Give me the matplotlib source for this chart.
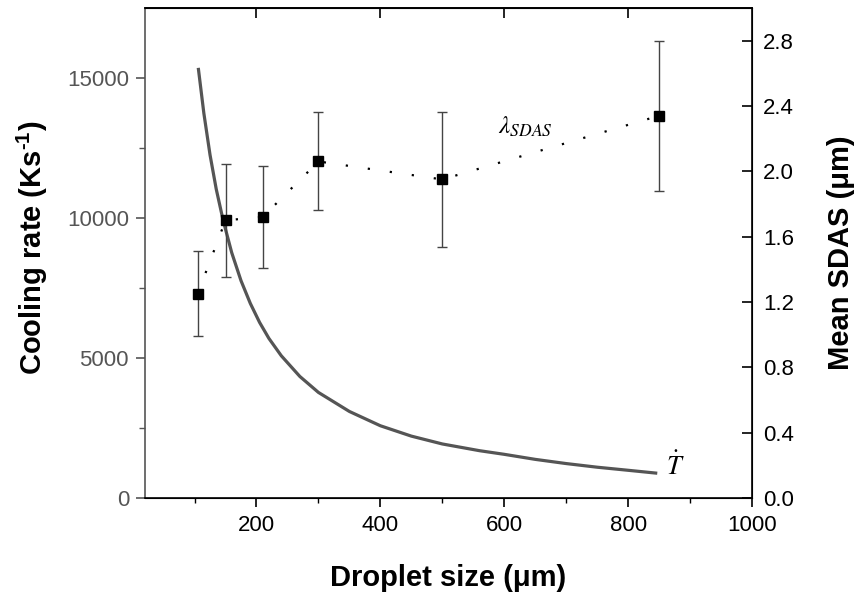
import matplotlib
matplotlib.use("Agg")
import matplotlib.pyplot as plt

plt.rcParams['font.family'] = ['Liberation Sans', 'DejaVu Sans']
plt.rcParams['mathtext.fontset'] = 'stix'
plt.rcParams['mathtext.rm'] = 'Liberation Sans:bold'
plt.rcParams['mathtext.bf'] = 'Liberation Sans:bold'
plt.rcParams['mathtext.it'] = 'Liberation Sans:bold'

# Cooling rate curve
cool_x = [106, 115, 125, 135, 146, 160, 175, 190, 205, 220, 240, 270, 300,
          350, 400, 450, 500, 560, 600, 650, 700, 750, 800, 847]
cool_y = [15360, 13740, 12250, 11030, 9930, 8760, 7760, 6950, 6270, 5700,
          5080, 4340, 3770, 3090, 2580, 2210, 1930, 1690, 1560, 1380, 1230,
          1100, 990, 885]

# Mean SDAS points with error bars
sdas_x = [105, 150, 210, 300, 500, 850]
sdas_y = [1.25, 1.70, 1.72, 2.06, 1.95, 2.34]
sdas_err = [0.26, 0.345, 0.315, 0.30, 0.415, 0.46]

fig = plt.figure(figsize=(8.58, 5.95), dpi=100)
ax = fig.add_axes([0.169, 0.163, 0.7075, 0.8237])
ax2 = ax.twinx()

ax.plot(cool_x, cool_y, color='#555555', lw=2.3, solid_capstyle='butt',
        solid_joinstyle='round', zorder=3)
ax.set_xlim(20, 1000)
ax.set_ylim(0, 17500)
ax.set_xticks([200, 400, 600, 800, 1000])
ax.set_xticks([100, 300, 500, 700, 900], minor=True)
ax.set_yticks([0, 5000, 10000, 15000])
ax.set_yticks([2500, 7500, 12500], minor=True)

ax2.errorbar(sdas_x, sdas_y, yerr=sdas_err, fmt='none', ecolor='#444444',
             elinewidth=1.0, capsize=3.3, capthick=1.0, zorder=2)
ax2.plot(sdas_x, sdas_y, color='black', lw=1.6, linestyle=(0, (1, 9)),
         dash_capstyle='butt', zorder=3)
ax2.plot(sdas_x, sdas_y, linestyle='none', marker='s', ms=6.6,
         color='black', zorder=4)
ax2.set_ylim(0, 3.0)
ax2.set_yticks([0.0, 0.4, 0.8, 1.2, 1.6, 2.0, 2.4, 2.8])
ax2.set_yticklabels(['0.0', '0.4', '0.8', '1.2', '1.6', '2.0', '2.4', '2.8'])

# Spines and ticks
ax.spines['left'].set_color('#555555')
ax.spines['left'].set_linewidth(1.2)
for s in ['bottom', 'top']:
    ax.spines[s].set_linewidth(1.2)
ax2.spines['right'].set_linewidth(1.2)
ax2.spines['left'].set_visible(False)

ax.tick_params(axis='y', which='major', direction='out', length=6.5, width=1.2,
               colors='#555555', labelsize=16, pad=5)
ax.tick_params(axis='y', which='minor', direction='out', length=4, width=1.0,
               colors='#555555')
ax.tick_params(axis='x', which='major', direction='out', length=6.5, width=1.2,
               labelsize=16, pad=6)
ax.tick_params(axis='x', which='minor', direction='out', length=3.7, width=1.0)
secx = ax.secondary_xaxis('top')
secx.set_xticks([200, 400, 600, 800])
secx.tick_params(direction='in', length=7, width=1.2, labeltop=False)
secx.spines['top'].set_linewidth(1.2)
ax.tick_params(axis='x', which='both', top=False)

ax2.tick_params(axis='y', which='major', direction='in', length=7, width=1.2,
                labelsize=16, pad=8)

ax.set_xlabel('Droplet size (μm)', fontsize=21, fontweight='bold')
ax.xaxis.set_label_coords(0.5, -0.135)
ax.set_ylabel(r'Cooling rate (Ks$^{\text{-}1}$)', fontsize=21,
              fontweight='bold', math_fontfamily='custom')
ax.yaxis.set_label_coords(-0.157, 0.51)
ax2.set_ylabel('Mean SDAS (μm)', fontsize=21, fontweight='bold')
ax2.yaxis.set_label_coords(1.123, 0.5)

ax2.text(634, 2.27, r'$\lambda_{SDAS}$', fontsize=18, ha='center', va='center')
ax.text(876, 1150, r'$\dot{T}$', fontsize=19, ha='center', va='center')

fig.savefig('out.png', dpi=100)
